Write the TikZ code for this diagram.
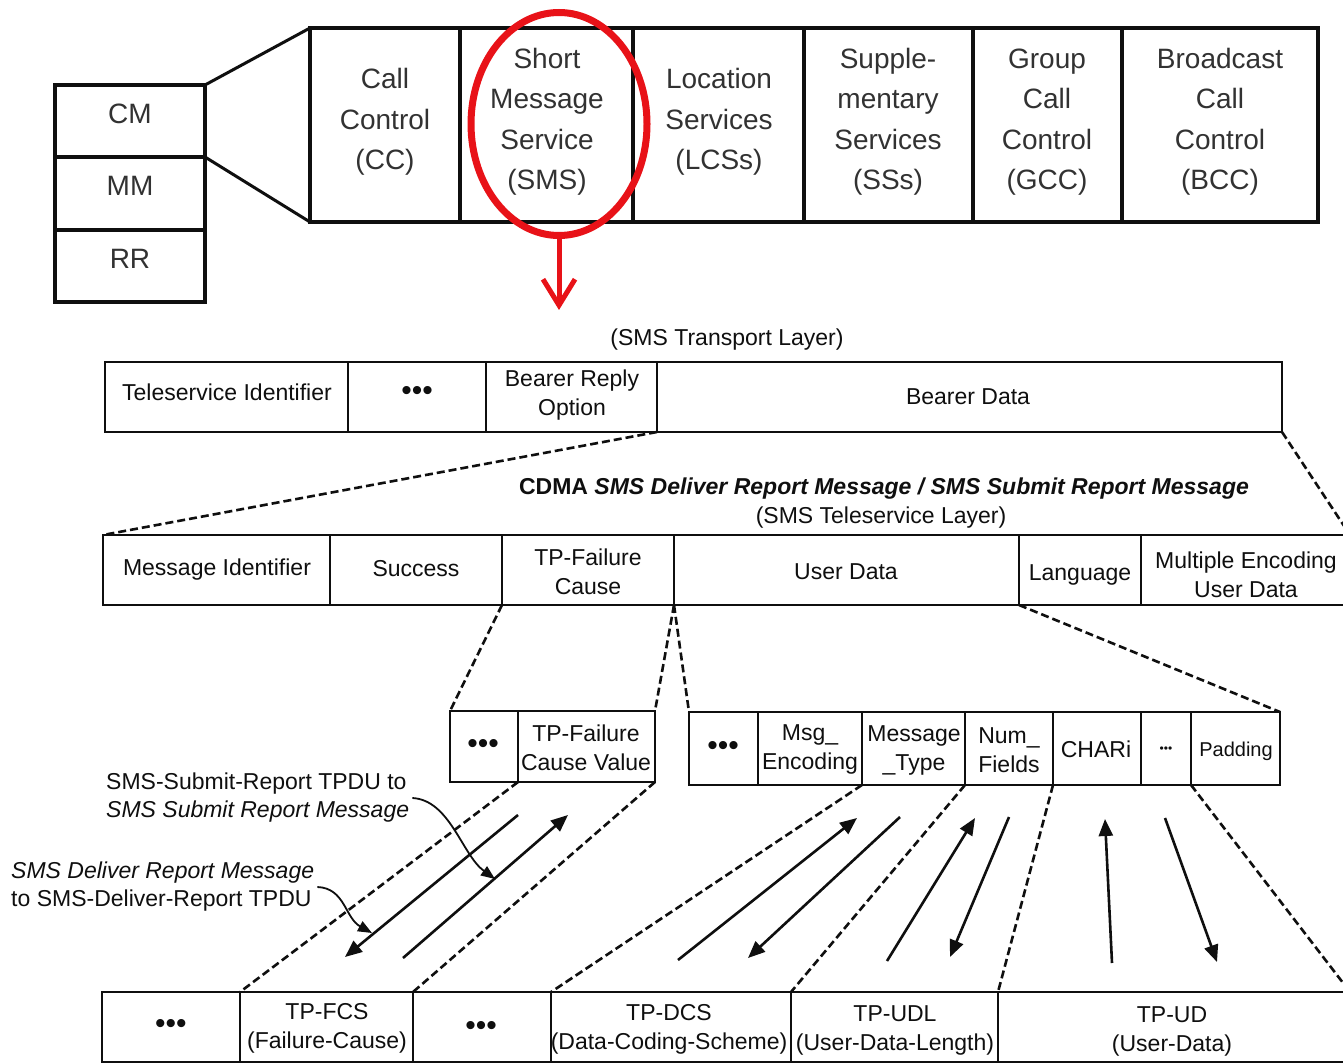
\documentclass[tikz,border=0pt]{standalone}
\usepackage{fontspec}
\setmainfont{Liberation Sans}
\usetikzlibrary{arrows.meta,fit,shapes.geometric}

\definecolor{hlred}{RGB}{232,18,24}
\definecolor{ink}{RGB}{15,15,15}
\definecolor{softink}{RGB}{50,50,50}

\tikzset{
  cellbox/.style={draw=ink, inner sep=0pt, outer sep=0pt},
  topcell/.style={cellbox, line width=4pt},
  fieldcell/.style={cellbox, line width=2.6pt},
  toptext/.style={align=center, inner sep=0pt, text=softink,
    font=\fontsize{28}{40.5}\selectfont},
  fieldtext/.style={align=center, inner sep=0pt, text=ink,
    font=\fontsize{23}{29}\selectfont},
  smalltext/.style={align=center, inner sep=0pt, text=ink,
    font=\fontsize{20}{24}\selectfont},
  dotstext/.style={inner sep=0pt, text=ink, font=\fontsize{30}{30}\selectfont},
  tinydots/.style={inner sep=0pt, text=ink, font=\fontsize{12}{12}\selectfont},
  titletext/.style={inner sep=0pt, text=ink, font=\fontsize{23}{28}\selectfont\bfseries},
  notetext/.style={align=left, inner sep=0pt, text=ink, font=\fontsize{23}{28}\selectfont},
  funnel/.style={draw=ink, line width=3pt},
  zoomline/.style={draw=ink, line width=2.6pt, dash pattern=on 8pt off 4pt},
  flow/.style={draw=ink, line width=2.6pt, -{Triangle[length=17pt,width=14pt]}},
  notearrow/.style={draw=ink, line width=1.8pt, -{Triangle[length=14pt,width=11pt]}},
  highlight/.style={ellipse, draw=hlred, line width=7pt, inner sep=0pt, outer sep=0pt,
    minimum width=176pt, minimum height=223pt},
  hlarrow/.style={draw=hlred, line width=5pt, -{Straight Barb[length=26pt,width=32pt]}},
}

% a boxed field spanning the corners (x1,y1)-(x2,y2)
\newcommand\field[6]{\node[#1, fit={(#3,#4) (#5,#6)}] (#2) {};}

\begin{document}
\begin{tikzpicture}[x=1pt,y=-1pt]
\useasboundingbox (0,0) rectangle (1343,1064);
\fill[white] (0,0) rectangle (1343,1064);

% ---- protocol stack on the left
\field{topcell}{cm}{55}{85}{205}{157}
\field{topcell}{mm}{55}{157}{205}{230}
\field{topcell}{rr}{55}{230}{205}{302}
\node[toptext] (cmt) at (130,114) {CM};
\node[toptext] (mmt) at (130,186) {MM};
\node[toptext] (rrt) at (130,259) {RR};

% ---- CM sublayer services
\field{topcell}{cc}{310}{28}{460}{222}
\field{topcell}{sms}{460}{28}{633}{222}
\field{topcell}{lcs}{633}{28}{804}{222}
\field{topcell}{ss}{804}{28}{973}{222}
\field{topcell}{gcc}{973}{28}{1122}{222}
\field{topcell}{bcc}{1122}{28}{1318}{222}
\node[toptext] (cct) at (385,122) {Call\\Control\\(CC)};
\node[toptext] (smst) at (547,122) {Short\\Message\\Service\\(SMS)};
\node[toptext] (lcst) at (719,122) {Location\\Services\\(LCSs)};
\node[toptext] (sst) at (888,122) {Supple-\\mentary\\Services\\(SSs)};
\node[toptext] (gcct) at (1047,122) {Group\\Call\\Control\\(GCC)};
\node[toptext] (bcct) at (1220,122) {Broadcast\\Call\\Control\\(BCC)};

\draw[funnel] (cm.north east) -- (cc.north west);
\draw[funnel] (cm.south east) -- (cc.south west);

% ---- highlight of the SMS entity
\node[highlight] (hl) at (559,124) {};
\coordinate (hlend) at (559,310);
\draw[hlarrow] (hl.south) -- (hlend);

% ---- SMS transport layer
\node[fieldtext] (tlt) at (727,340) {(SMS Transport Layer)};
\field{fieldcell}{tele}{105}{362}{348}{432}
\field{fieldcell}{tdots}{348}{362}{486}{432}
\field{fieldcell}{bro}{486}{362}{657}{432}
\field{fieldcell}{bdata}{657}{362}{1282}{432}
\node[fieldtext] (telet) at (227,392) {Teleservice Identifier};
\node[dotstext] (tdotst) at (417,393) {•••};
\node[fieldtext] (brot) at (572,395) {Bearer Reply\\Option};
\node[fieldtext] (bdatat) at (968,397) {Bearer Data};

% ---- SMS teleservice layer
\node[titletext] (ttl) at (884,489) {CDMA \textit{SMS Deliver Report Message / SMS Submit Report Message}};
\node[fieldtext] (tsl) at (881,518) {(SMS Teleservice Layer)};
\field{fieldcell}{msgid}{103}{535}{330}{605}
\field{fieldcell}{succ}{330}{535}{502}{605}
\field{fieldcell}{tpf}{502}{535}{674}{605}
\field{fieldcell}{ud}{674}{535}{1019}{605}
\field{fieldcell}{lang}{1019}{535}{1141}{605}
\field{fieldcell}{mued}{1141}{535}{1350}{605}
\node[fieldtext] (msgidt) at (217,570) {Message Identifier};
\node[fieldtext] (succt) at (416,569) {Success};
\node[fieldtext] (tpft) at (588,572) {TP-Failure\\Cause};
\node[fieldtext] (udt) at (846,572) {User Data};
\node[fieldtext] (langt) at (1080,575) {Language};
\node[fieldtext] (muedt) at (1246,575) {Multiple Encoding\\User Data};

\draw[zoomline] (bdata.south west) -- (msgid.north west);
\draw[zoomline] (bdata.south east) -- (mued.north east);

% ---- expanded TP-Failure Cause
\field{fieldcell}{fdots}{450}{711}{518}{782}
\field{fieldcell}{tpfcv}{518}{711}{655}{782}
\node[dotstext] (fdotst) at (483,746) {•••};
\node[fieldtext] (tpfcvt) at (586,748) {TP-Failure\\Cause Value};

\draw[zoomline] (tpf.south west) -- (fdots.north west);
\draw[zoomline] (tpf.south east) -- (tpfcv.north east);

% ---- expanded User Data
\field{fieldcell}{udots}{689}{712}{758}{785}
\field{fieldcell}{menc}{758}{712}{862}{785}
\field{fieldcell}{mtype}{862}{712}{965}{785}
\field{fieldcell}{numf}{965}{712}{1053}{785}
\field{fieldcell}{chari}{1053}{712}{1141}{785}
\field{fieldcell}{sdots}{1141}{712}{1191}{785}
\field{fieldcell}{pad}{1191}{712}{1280}{785}
\node[dotstext] (udotst) at (723,748) {•••};
\node[fieldtext] (menct) at (810,749) {Msg\_\\Encoding};
\node[fieldtext] (mtypet) at (914,750) {Message\\\_Type};
\node[fieldtext] (numft) at (1009,750) {Num\_\\Fields};
\node[fieldtext] (charit) at (1096,749) {CHARi};
\node[tinydots] (sdotst) at (1166,750) {•••};
\node[smalltext] (padt) at (1236,751) {Padding};

\draw[zoomline] (tpf.south east) -- (udots.north west);
\draw[zoomline] (ud.south east) -- (pad.north east);

% ---- TPDU fields
\field{fieldcell}{bdots1}{102}{992}{240}{1062}
\field{fieldcell}{tpfcs}{240}{992}{413}{1062}
\field{fieldcell}{bdots2}{413}{992}{551}{1062}
\field{fieldcell}{tpdcs}{551}{992}{791}{1062}
\field{fieldcell}{tpudl}{791}{992}{998}{1062}
\field{fieldcell}{tpud}{998}{992}{1350}{1062}
\node[dotstext] (bdots1t) at (171,1026) {•••};
\node[fieldtext] (tpfcst) at (327,1028) {TP-FCS\\(Failure-Cause)};
\node[dotstext] (bdots2t) at (481,1028) {•••};
\node[fieldtext] (tpdcst) at (669,1029) {TP-DCS\\(Data-Coding-Scheme)};
\node[fieldtext] (tpudlt) at (895,1030) {TP-UDL\\(User-Data-Length)};
\node[fieldtext] (tpudt) at (1172,1031) {TP-UD\\(User-Data)};

\draw[zoomline] (tpfcv.south west) -- (tpfcs.north west);
\draw[zoomline] (tpfcv.south east) -- (tpfcs.north east);
\draw[zoomline] (menc.south east) -- (tpdcs.north west);
\draw[zoomline] (mtype.south east) -- (tpudl.north west);
\draw[zoomline] (numf.south east) -- (tpud.north west);
\draw[zoomline] (sdots.south east) -- (tpud.north east);

% ---- mapping arrows
\coordinate (a1s) at (518,815);  \coordinate (a1e) at (345,957);
\coordinate (a2s) at (403,958);  \coordinate (a2e) at (568,815);
\coordinate (a3s) at (678,960);  \coordinate (a3e) at (857,818);
\coordinate (a4s) at (900,817);  \coordinate (a4e) at (748,958);
\coordinate (a5s) at (887,961);  \coordinate (a5e) at (975,818);
\coordinate (a6s) at (1009,817); \coordinate (a6e) at (950,957);
\coordinate (a7s) at (1112,963); \coordinate (a7e) at (1105,819);
\coordinate (a8s) at (1165,818); \coordinate (a8e) at (1217,962);
\draw[flow] (a1s) -- (a1e);
\draw[flow] (a2s) -- (a2e);
\draw[flow] (a3s) -- (a3e);
\draw[flow] (a4s) -- (a4e);
\draw[flow] (a5s) -- (a5e);
\draw[flow] (a6s) -- (a6e);
\draw[flow] (a7s) -- (a7e);
\draw[flow] (a8s) -- (a8e);

% ---- explanatory notes
\node[notetext, anchor=west] (note1) at (106,798) {SMS-Submit-Report TPDU to\\\textit{SMS Submit Report Message}};
\node[notetext, anchor=west] (note2) at (11,887) {\textit{SMS Deliver Report Message}\\to SMS-Deliver-Report TPDU};
\coordinate (n1e) at (495,879);
\coordinate (n2e) at (372,933);
\draw[notearrow] (note1.east) ++(3,0) .. controls (450,800) and (462,855) .. (n1e);
\draw[notearrow] (note2.east) ++(3,0) .. controls (345,888) and (345,918) .. (n2e);
\end{tikzpicture}
\end{document}
